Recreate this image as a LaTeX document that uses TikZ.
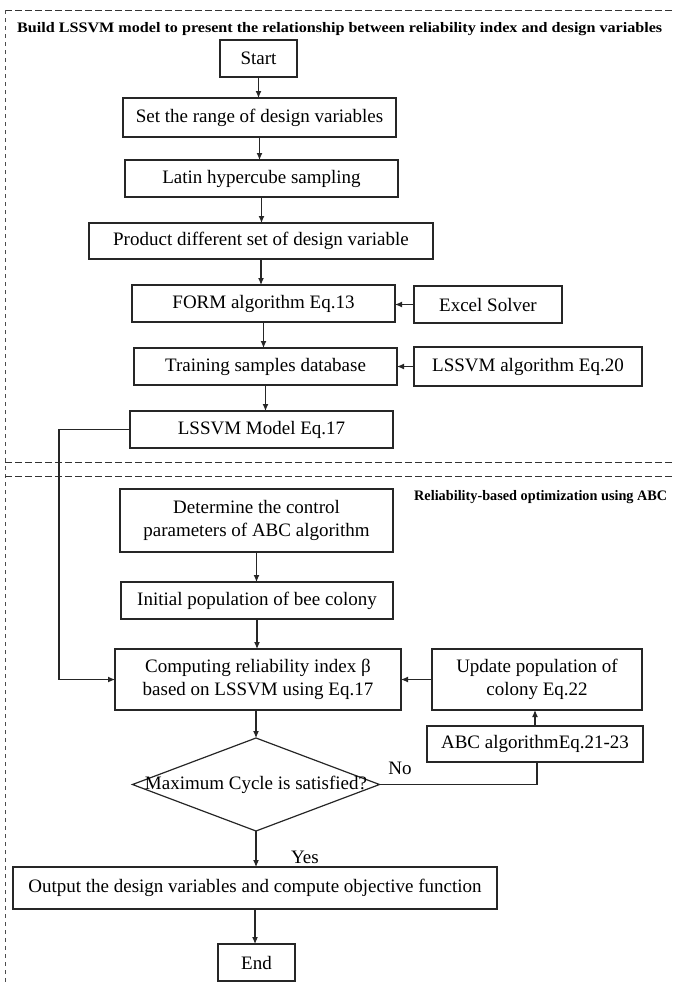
\documentclass[tikz,border=0pt]{standalone}
\usepackage{fontspec}
\setmainfont{Liberation Serif}
\usetikzlibrary{arrows.meta,shapes.geometric}
\tikzset{
  box/.style={draw=black!85, line width=1.2pt, inner sep=0pt, outer sep=0pt, align=center,
    font=\fontsize{19}{23}\selectfont},
  arr/.style={draw=black!85, line width=1.1pt, -{Latex[length=7pt,width=6pt]}},
  ln/.style={draw=black!85, line width=1.1pt},
  sect/.style={draw=black!80, line width=1pt, dash pattern=on 6.5pt off 3.5pt},
  sectv/.style={draw=black!70, line width=0.8pt, dash pattern=on 4pt off 4pt},
  dia/.style={draw=black!85, line width=1.2pt, diamond, inner sep=0pt, outer sep=0pt,
    minimum width=247pt, minimum height=93pt, aspect=2.656},
  lbl/.style={font=\fontsize{19}{23}\selectfont, inner sep=0pt},
  ttl/.style={inner sep=0pt, anchor=base west}
}
\begin{document}
\begin{tikzpicture}[x=1pt,y=-1pt]
\useasboundingbox (0,0) rectangle (674,985);
% section frames
\coordinate (tl) at (5,10);
\coordinate (tr) at (674,10);
\coordinate (bl) at (5,985);
\coordinate (m1l) at (5,462);
\coordinate (m1r) at (674,462);
\coordinate (m2l) at (5,476);
\coordinate (m2r) at (674,476);
\draw[sect] (tl) -- (tr);
\draw[sectv] (tl) -- (bl);
\draw[sect] (m1l) -- (m1r);
\draw[sect] (m2l) -- (m2r);
% titles
\node[ttl] (t1) at (17,32) {\resizebox{645pt}{\height}{\fontsize{14.5}{16}\selectfont\bfseries Build LSSVM model to present the relationship between reliability index and design variables}};
\node[ttl] (t2) at (414,500) {\resizebox{253pt}{\height}{\fontsize{14.5}{16}\selectfont\bfseries Reliability-based optimization using ABC}};
% nodes
\node[box, minimum width=77pt, minimum height=37pt] (start) at (258.5,58.5) {Start};
\node[box, minimum width=273pt, minimum height=39pt] (range) at (259.5,117.5) {Set the range of design variables};
\node[box, minimum width=273pt, minimum height=37pt] (latin) at (261.5,178.5) {Latin hypercube sampling};
\node[box, minimum width=344pt, minimum height=36pt] (prod) at (261,241) {Product different set of design variable};
\node[box, minimum width=263pt, minimum height=37pt] (form) at (263.5,303.5) {FORM algorithm Eq.13};
\node[box, minimum width=148pt, minimum height=37pt] (excel) at (488,304.5) {Excel Solver};
\node[box, minimum width=263pt, minimum height=37pt] (train) at (265.5,366.5) {Training samples database};
\node[box, minimum width=228pt, minimum height=39pt] (lsalg) at (528,366.5) {LSSVM algorithm Eq.20};
\node[box, minimum width=263pt, minimum height=37pt] (model) at (261.5,429.5) {LSSVM Model Eq.17};
\node[box, minimum width=273pt, minimum height=63pt] (det) at (256.5,520.5) {Determine the control\\parameters of ABC algorithm};
\node[box, minimum width=272pt, minimum height=37pt] (init) at (257,600.5) {Initial population of bee colony};
\node[box, minimum width=286pt, minimum height=61pt] (comp) at (258,679.5) {Computing reliability index β\\based on LSSVM using Eq.17};
\node[box, minimum width=210pt, minimum height=61pt] (upd) at (537,679.5) {Update population of\\colony Eq.22};
\node[box, minimum width=216pt, minimum height=36pt] (abc) at (535,744) {ABC algorithmEq.21-23};
\node[dia, label={[lbl]center:Maximum Cycle is satisfied?}] (dec) at (256,784.5) {};
\node[box, minimum width=484pt, minimum height=42pt] (out) at (255,888) {Output the design variables and compute objective function};
\node[box, minimum width=77pt, minimum height=37pt] (end) at (256.5,962.5) {End};
% labels
\node[lbl] (no) at (400,768) {No};
\node[lbl] (yes) at (305,857) {Yes};
% connectors
\draw[arr] (start.south) -- (start.south |- range.north);
\draw[arr] (range.south) -- (range.south |- latin.north);
\draw[arr] (latin.south) -- (latin.south |- prod.north);
\draw[arr] (prod.south) -- (prod.south |- form.north);
\draw[arr] (form.south) -- (form.south |- train.north);
\draw[arr] (train.south) -- (train.south |- model.north);
\draw[arr] (excel.west) -- (excel.west -| form.east);
\draw[arr] (lsalg.west) -- (lsalg.west -| train.east);
\coordinate (lc1) at (59,428);
\draw[arr] (model.west) -- (model.west -| lc1) |- (comp.west);
\draw[arr] (det.south) -- (det.south |- init.north);
\draw[arr] (init.south) -- (init.south |- comp.north);
\draw[arr] (upd.west) -- (comp.east);
\draw[arr] (abc.north) -- (abc.north |- upd.south);
\draw[arr] (comp.south -| dec.north) -- (dec.north);
\coordinate (nc) at (537,784.5);
\draw[ln] (dec.east) -- (nc) -- (nc |- abc.south);
\draw[arr] (dec.south) -- (dec.south |- out.north);
\draw[arr] (out.south) -- (out.south |- end.north);
\end{tikzpicture}
\end{document}
